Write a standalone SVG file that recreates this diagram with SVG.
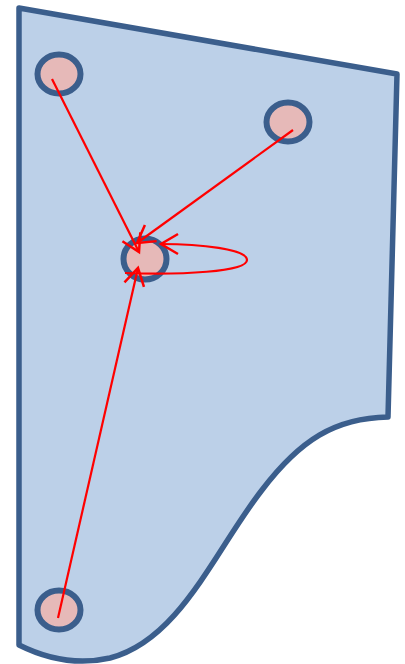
<svg xmlns="http://www.w3.org/2000/svg" width="405" height="664" viewBox="0 0 405 664">
<defs>
<marker id="arr" markerUnits="userSpaceOnUse" markerWidth="40" markerHeight="40" viewBox="-20 -20 40 40" refX="0" refY="0" orient="auto">
<path d="M-17,-10 L0,0 L-17,10" fill="none" stroke="#ff0000" stroke-width="2.5"/>
</marker>
<style>
.node{fill:#e6b9b8;stroke:#3b5e8c;stroke-width:6}
.edge{fill:none;stroke:#ff0000;stroke-width:2.2;marker-end:url(#arr)}
</style>
</defs>
<g id="shape">
<path d="M19,8 L397,74 L388,417 C335,418 300,440 262,490 C215,550 180,640 110,658 C75,666 45,658 19,645 Z" fill="#bcd0e8" stroke="#3b5e8c" stroke-width="5.5" stroke-linejoin="round"/>
</g>
<g id="node-tl"><ellipse class="node" cx="59" cy="74" rx="21.5" ry="19.5"/></g>
<g id="node-tr"><ellipse class="node" cx="288" cy="122" rx="21.5" ry="19.5"/></g>
<g id="node-c"><ellipse class="node" cx="145" cy="259" rx="21.5" ry="20.5"/></g>
<g id="node-b"><ellipse class="node" cx="59" cy="610" rx="21.5" ry="19.5"/></g>
<g id="connectors">
<path class="edge" d="M52,79 L139,252"/>
<path class="edge" d="M293,130 L137,243"/>
<path class="edge" d="M58,618 L138,268"/>
<path class="edge" d="M125,273 C180,275 247,272 247,260 C247,249 200,244 161,244"/>
</g>
</svg>
